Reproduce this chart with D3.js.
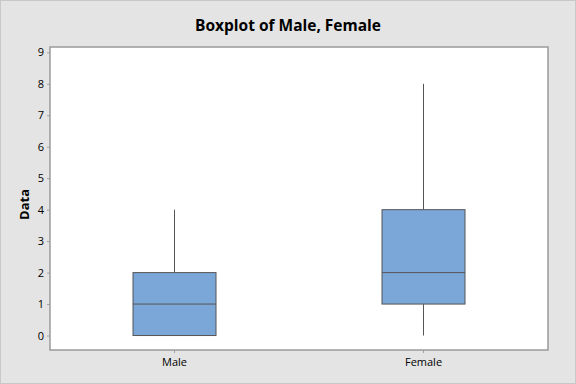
<!DOCTYPE html>
<html>
<head>
<meta charset="utf-8">
<script src="https://cdn.jsdelivr.net/npm/d3@7"></script>
<style>
  body { margin: 0; padding: 0; background: #fff; }
  svg { display: block; }
</style>
</head>
<body>
<svg id="chart"></svg>
<script>
// data
const groups = ["Male", "Female"];
const lowWhisker = [0, 0];
const q1 = [0, 1];
const medians = [1, 2];
const q3 = [2, 4];
const highWhisker = [4, 8];
const yTicks = [0, 1, 2, 3, 4, 5, 6, 7, 8, 9];

const width = 576, height = 384;
const margin = { top: 47, right: 28, bottom: 34, left: 50 };
const innerWidth = width - margin.left - margin.right;
const innerHeight = height - margin.top - margin.bottom;

const svg = d3.select("#chart").attr("width", width).attr("height", height);

// background + outer border
svg.append("rect")
  .attr("x", 0.5).attr("y", 0.5)
  .attr("width", width - 1).attr("height", height - 1)
  .attr("fill", "#e4e4e4")
  .attr("stroke", "#c8c8c8");

const xScale = d3.scaleBand().domain(groups).range([0, innerWidth]).padding(0);
const yScale = d3.scaleLinear().domain([-0.46, 9.17]).range([innerHeight, 0]);

const g = svg.append("g").attr("transform", `translate(${margin.left}, ${margin.top})`);

g.append("rect")
  .attr("x", 0).attr("y", 0)
  .attr("width", innerWidth).attr("height", innerHeight)
  .attr("fill", "#ffffff");

// axes
const yaxis = g.append("g")
  .call(d3.axisLeft(yScale).tickValues(yTicks).tickSize(3).tickPadding(3));
const xaxis = g.append("g")
  .attr("transform", `translate(0, ${innerHeight})`)
  .call(d3.axisBottom(xScale).tickSize(3).tickPadding(5));

[yaxis, xaxis].forEach(ax => {
  ax.select(".domain").remove();
  ax.selectAll(".tick line").attr("stroke", "#a0a0a0");
  ax.selectAll(".tick text")
    .attr("fill", "#000")
    .attr("font-family", "'Open Sans', 'DejaVu Sans', sans-serif")
    .attr("font-size", "11px");
});

// plot border
g.append("rect")
  .attr("x", 0).attr("y", 0)
  .attr("width", innerWidth).attr("height", innerHeight)
  .attr("fill", "none")
  .attr("stroke", "#9a9a9a")
  .attr("stroke-width", 1.5);

// boxes
const boxW = xScale.bandwidth() / 3;
groups.forEach((name, i) => {
  const cx = xScale(name) + xScale.bandwidth() / 2;
  const bg = g.append("g").attr("class", "box");

  bg.append("line")
    .attr("x1", cx).attr("x2", cx)
    .attr("y1", yScale(highWhisker[i])).attr("y2", yScale(q3[i]))
    .attr("stroke", "#555").attr("stroke-width", 1);
  bg.append("line")
    .attr("x1", cx).attr("x2", cx)
    .attr("y1", yScale(q1[i])).attr("y2", yScale(lowWhisker[i]))
    .attr("stroke", "#555").attr("stroke-width", 1);

  bg.append("rect")
    .attr("x", cx - boxW / 2)
    .attr("y", yScale(q3[i]))
    .attr("width", boxW)
    .attr("height", yScale(q1[i]) - yScale(q3[i]))
    .attr("fill", "#7ba7d8")
    .attr("stroke", "#555")
    .attr("stroke-width", 1);

  bg.append("line")
    .attr("x1", cx - boxW / 2).attr("x2", cx + boxW / 2)
    .attr("y1", yScale(medians[i])).attr("y2", yScale(medians[i]))
    .attr("stroke", "#555").attr("stroke-width", 1);
});

// title
svg.append("text")
  .attr("x", width / 2).attr("y", 31)
  .attr("text-anchor", "middle")
  .attr("font-family", "'Open Sans', 'DejaVu Sans', sans-serif")
  .attr("font-weight", "bold")
  .attr("font-size", "15.5px")
  .text("Boxplot of Male, Female");

// y label
svg.append("text")
  .attr("transform", `translate(29, ${margin.top + innerHeight / 2 + 6})rotate(270)`)
  .attr("text-anchor", "middle")
  .attr("font-family", "'Open Sans', 'DejaVu Sans', sans-serif")
  .attr("font-weight", "bold")
  .attr("font-size", "13px")
  .text("Data");
</script>
</body>
</html>
